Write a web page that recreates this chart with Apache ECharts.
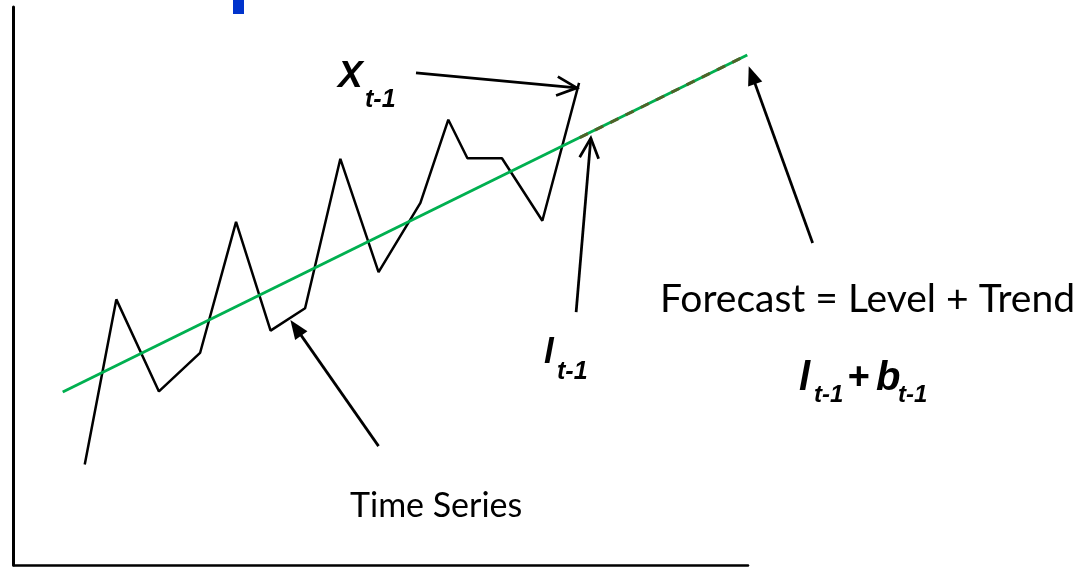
<!DOCTYPE html>
<html>
<head>
<meta charset="utf-8">
<title>Forecast = Level + Trend</title>
<script src="https://cdn.jsdelivr.net/npm/echarts@6/dist/echarts.min.js"></script>
<style>
html, body { margin: 0; padding: 0; background: #fff; }
#main { width: 1076px; height: 567px; }
</style>
</head>
<body>
<div id="main"></div>
<script>
// time series (x = time, y = value), axis units 0..100
const seriesX = [9.7, 14.0, 19.8, 25.4, 30.3, 35.0, 39.7, 44.5, 49.7, 55.4, 59.2, 61.8, 66.5, 72.0, 77.0]
const seriesY = [18.0, 47.6, 31.1, 38.0, 61.5, 42.0, 46.0, 72.8, 52.5, 64.9, 79.8, 72.9, 72.9, 61.7, 86.4]
// level + trend line
const trendX = [6.7, 99.9]
const trendY = [31.0, 91.4]
// forecast part of the trend (dashed overlay)
const forecastX = [77.1, 99.9]
const forecastY = [76.6, 91.4]
// annotation arrows, from -> to
const arrowFrom = [[54.8, 88.2], [76.6, 45.3], [49.7, 21.3], [108.8, 57.7]]
const arrowTo = [[76.7, 85.5], [78.6, 76.5], [37.7, 43.9], [100.1, 89.4]]
const arrowHead = ['open', 'open', 'filled', 'filled']

const pairs = (xs, ys) => xs.map((x, i) => [x, ys[i]])

function renderArrow (params, api) {
  const p1 = api.coord([api.value(0), api.value(1)])
  const p2 = api.coord([api.value(2), api.value(3)])
  const filled = api.value(4) === 1
  const dx = p2[0] - p1[0]
  const dy = p2[1] - p1[1]
  const len = Math.sqrt(dx * dx + dy * dy)
  const ux = dx / len
  const uy = dy / len
  const L = filled ? 19 : 20
  const W = filled ? 7.5 : 9.5
  const bx = p2[0] - ux * L
  const by = p2[1] - uy * L
  const left = [bx - uy * W, by + ux * W]
  const right = [bx + uy * W, by - ux * W]
  const children = [{
    type: 'line',
    shape: { x1: p1[0], y1: p1[1], x2: filled ? bx + ux * 3 : p2[0], y2: filled ? by + uy * 3 : p2[1] },
    style: { stroke: '#000', lineWidth: 2.75 }
  }]
  if (filled) {
    children.push({ type: 'polygon', shape: { points: [p2, left, right] }, style: { fill: '#000' } })
  } else {
    children.push({ type: 'polyline', shape: { points: [left, p2, right] }, style: { stroke: '#000', lineWidth: 2.75, fill: null } })
  }
  return { type: 'group', children }
}

// math labels: Arial-like bold italic
function mathTxt (text, x, y, size, align) {
  return {
    type: 'text',
    x: x,
    y: y,
    silent: true,
    style: {
      text: text,
      fontFamily: 'Liberation Sans',
      fontStyle: 'italic',
      fontWeight: 'bold',
      fontSize: size,
      fill: '#000',
      align: align || 'left',
      verticalAlign: 'middle'
    }
  }
}

function bodyTxt (text, x, y, size) {
  return {
    type: 'text',
    x: x,
    y: y,
    silent: true,
    style: {
      text: text,
      fontFamily: 'Lato',
      fontSize: size,
      fill: '#000',
      align: 'left',
      verticalAlign: 'middle'
    }
  }
}

const myChart = echarts.init(document.getElementById('main'))
const option = {
  animation: false,
  backgroundColor: '#fff',
  grid: { left: 13.5, top: 7, right: 328, bottom: 2 },
  xAxis: {
    type: 'value',
    min: 0,
    max: 100,
    axisLine: { show: true, lineStyle: { color: '#000', width: 2.5 } },
    axisTick: { show: false },
    axisLabel: { show: false },
    splitLine: { show: false }
  },
  yAxis: {
    type: 'value',
    min: 0,
    max: 100,
    axisLine: { show: true, lineStyle: { color: '#000', width: 3 } },
    axisTick: { show: false },
    axisLabel: { show: false },
    splitLine: { show: false }
  },
  graphic: [
    { type: 'rect', shape: { x: 233, y: 0, width: 11, height: 14 }, style: { fill: '#0033cc' }, silent: true },
    mathTxt('X', 338, 76.5, 37),
    mathTxt('t-1', 365, 100, 25),
    mathTxt('l', 544, 353, 35),
    mathTxt('t-1', 557, 372, 25),
    bodyTxt('Forecast = Level + Trend', 660, 299, 39),
    mathTxt('l', 799, 379, 40),
    mathTxt('t-1', 814, 395, 24),
    mathTxt('+', 858, 379, 38, 'center'),
    mathTxt('b', 876, 379, 40),
    mathTxt('t-1', 898, 395, 24),
    bodyTxt('Time Series', 350, 506, 34)
  ],
  series: [
    {
      name: 'Time Series',
      type: 'line',
      data: pairs(seriesX, seriesY),
      showSymbol: false,
      clip: false,
      lineStyle: { color: '#000', width: 2.5 }
    },
    {
      name: 'Level + Trend',
      type: 'line',
      data: pairs(trendX, trendY),
      showSymbol: false,
      clip: false,
      lineStyle: { color: '#00b050', width: 3 }
    },
    {
      name: 'Forecast',
      type: 'line',
      data: pairs(forecastX, forecastY),
      showSymbol: false,
      clip: false,
      lineStyle: { color: '#4f6228', width: 3, type: [9, 8] }
    },
    {
      name: 'Arrows',
      type: 'custom',
      clip: false,
      silent: true,
      renderItem: renderArrow,
      data: arrowFrom.map((f, i) => [f[0], f[1], arrowTo[i][0], arrowTo[i][1], arrowHead[i] === 'filled' ? 1 : 0])
    }
  ]
}
myChart.setOption(option)
</script>
</body>
</html>
